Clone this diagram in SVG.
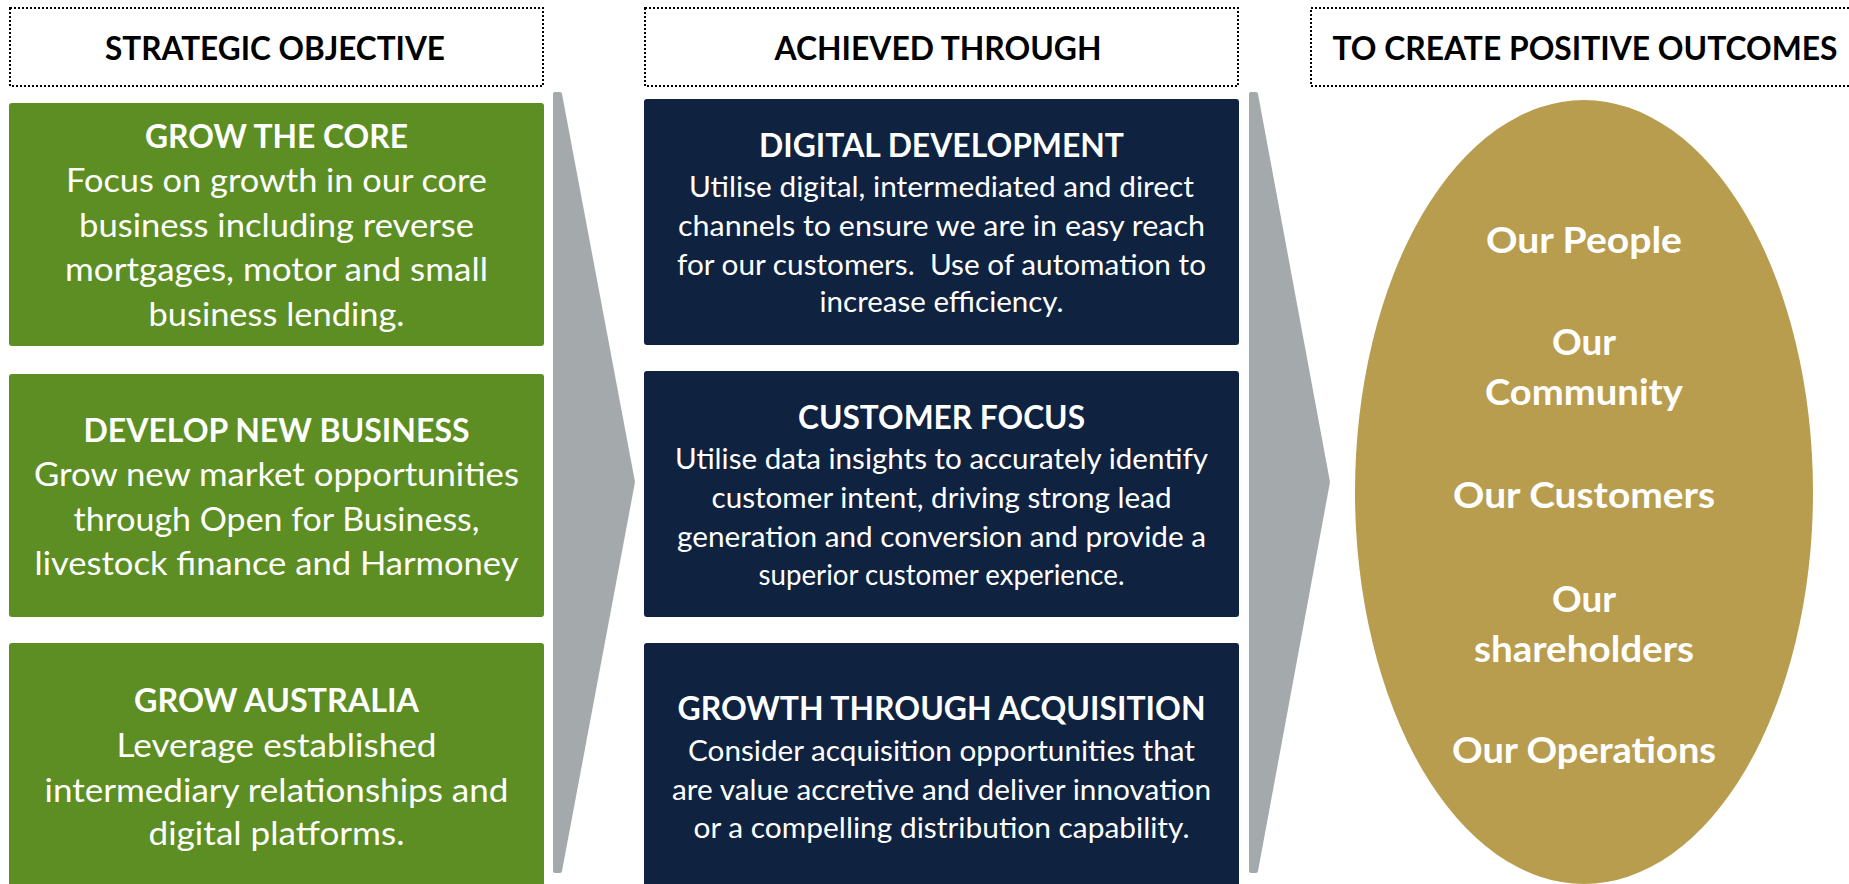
<svg xmlns="http://www.w3.org/2000/svg" width="1849" height="884" viewBox="0 0 1849 884">
<style>
.hdr{fill:none;stroke:#000;stroke-width:2;stroke-dasharray:2 2}
.ht{font-family:Lato,"Open Sans",sans-serif;font-weight:700;font-size:32px;fill:#000;text-anchor:middle}
.g{fill:#5D8E23}
.n{fill:#0F2240}
.t{font-family:Lato,"Open Sans",sans-serif;fill:#fff;text-anchor:middle}
.tb{font-weight:700;font-size:33px}
.gb{font-size:33px}
.nb{font-size:28px}
.e{font-family:Lato,"Open Sans",sans-serif;font-weight:700;font-size:37px;fill:#fff;text-anchor:middle}
.arr{fill:#A4A9AC;stroke:#A4A9AC;stroke-width:4;stroke-linejoin:round}
</style>

<g id="header-strategic">
<rect class="hdr" x="10" y="8" width="533" height="78"/>
<text class="ht" x="275" y="60" textLength="340" lengthAdjust="spacingAndGlyphs">STRATEGIC OBJECTIVE</text>
</g>
<g id="header-achieved">
<rect class="hdr" x="645" y="8" width="593" height="78"/>
<text class="ht" x="938" y="60" textLength="327" lengthAdjust="spacingAndGlyphs">ACHIEVED THROUGH</text>
</g>
<g id="header-outcomes">
<rect class="hdr" x="1311" y="8" width="560" height="78"/>
<text class="ht" x="1585" y="60" textLength="505" lengthAdjust="spacingAndGlyphs">TO CREATE POSITIVE OUTCOMES</text>
</g>

<g id="connectors">
<polygon class="arr" points="555,94 560,94 633,482 560,871 555,871"/>
<polygon class="arr" points="1251,94 1256,94 1328,482 1256,871 1251,871"/>
</g>

<g id="grow-core">
<rect class="g" x="9" y="103" width="535" height="243" rx="3"/>
<text class="t tb" x="276.5" y="148" textLength="263" lengthAdjust="spacingAndGlyphs">GROW THE CORE</text>
<text class="t gb" x="276.5" y="192" textLength="421" lengthAdjust="spacingAndGlyphs">Focus on growth in our core</text>
<text class="t gb" x="276.5" y="237" textLength="395" lengthAdjust="spacingAndGlyphs">business including reverse</text>
<text class="t gb" x="276.5" y="281" textLength="423" lengthAdjust="spacingAndGlyphs">mortgages, motor and small</text>
<text class="t gb" x="276.5" y="326" textLength="256" lengthAdjust="spacingAndGlyphs">business lending.</text>
</g>

<g id="develop-new-business">
<rect class="g" x="9" y="374" width="535" height="243" rx="3"/>
<text class="t tb" x="276.5" y="442" textLength="386" lengthAdjust="spacingAndGlyphs">DEVELOP NEW BUSINESS</text>
<text class="t gb" x="276.5" y="486" textLength="485" lengthAdjust="spacingAndGlyphs">Grow new market opportunities</text>
<text class="t gb" x="276.5" y="531" textLength="406" lengthAdjust="spacingAndGlyphs">through Open for Business,</text>
<text class="t gb" x="276.5" y="575" textLength="484" lengthAdjust="spacingAndGlyphs">livestock finance and Harmoney</text>
</g>

<g id="grow-australia">
<rect class="g" x="9" y="643" width="535" height="250" rx="3"/>
<text class="t tb" x="276.5" y="712" textLength="285" lengthAdjust="spacingAndGlyphs">GROW AUSTRALIA</text>
<text class="t gb" x="276.5" y="757" textLength="320" lengthAdjust="spacingAndGlyphs">Leverage established</text>
<text class="t gb" x="276.5" y="802" textLength="464" lengthAdjust="spacingAndGlyphs">intermediary relationships and</text>
<text class="t gb" x="276.5" y="845" textLength="256" lengthAdjust="spacingAndGlyphs">digital platforms.</text>
</g>

<g id="digital-development">
<rect class="n" x="644" y="99" width="595" height="246" rx="3"/>
<text class="t tb" x="941.5" y="157" textLength="365" lengthAdjust="spacingAndGlyphs">DIGITAL DEVELOPMENT</text>
<text class="t nb" x="941.5" y="197" textLength="505" lengthAdjust="spacingAndGlyphs">Utilise digital, intermediated and direct</text>
<text class="t nb" x="941.5" y="236" textLength="527" lengthAdjust="spacingAndGlyphs">channels to ensure we are in easy reach</text>
<text class="t nb" x="941.5" y="275" textLength="529" lengthAdjust="spacingAndGlyphs" xml:space="preserve">for our customers.  Use of automation to</text>
<text class="t nb" x="941.5" y="312" textLength="244" lengthAdjust="spacingAndGlyphs">increase efficiency.</text>
</g>

<g id="customer-focus">
<rect class="n" x="644" y="371" width="595" height="246" rx="3"/>
<text class="t tb" x="941.5" y="429" textLength="287" lengthAdjust="spacingAndGlyphs">CUSTOMER FOCUS</text>
<text class="t nb" x="941.5" y="469" textLength="533" lengthAdjust="spacingAndGlyphs">Utilise data insights to accurately identify</text>
<text class="t nb" x="941.5" y="508" textLength="460" lengthAdjust="spacingAndGlyphs">customer intent, driving strong lead</text>
<text class="t nb" x="941.5" y="547" textLength="529" lengthAdjust="spacingAndGlyphs">generation and conversion and provide a</text>
<text class="t nb" x="941.5" y="585" textLength="366" lengthAdjust="spacingAndGlyphs">superior customer experience.</text>
</g>

<g id="growth-acquisition">
<rect class="n" x="644" y="643" width="595" height="250" rx="3"/>
<text class="t tb" x="941.5" y="720" textLength="528" lengthAdjust="spacingAndGlyphs">GROWTH THROUGH ACQUISITION</text>
<text class="t nb" x="941.5" y="761" textLength="507" lengthAdjust="spacingAndGlyphs">Consider acquisition opportunities that</text>
<text class="t nb" x="941.5" y="800" textLength="539" lengthAdjust="spacingAndGlyphs">are value accretive and deliver innovation</text>
<text class="t nb" x="941.5" y="838" textLength="496" lengthAdjust="spacingAndGlyphs">or a compelling distribution capability.</text>
</g>

<g id="outcomes">
<ellipse cx="1584" cy="492" rx="229" ry="392" fill="#B89D4F"/>
<text class="e" x="1584" y="253" textLength="196" lengthAdjust="spacingAndGlyphs">Our People</text>
<text class="e" x="1584" y="355" textLength="64" lengthAdjust="spacingAndGlyphs">Our</text>
<text class="e" x="1584" y="405" textLength="198" lengthAdjust="spacingAndGlyphs">Community</text>
<text class="e" x="1584" y="508" textLength="262" lengthAdjust="spacingAndGlyphs">Our Customers</text>
<text class="e" x="1584" y="612" textLength="64" lengthAdjust="spacingAndGlyphs">Our</text>
<text class="e" x="1584" y="662" textLength="220" lengthAdjust="spacingAndGlyphs">shareholders</text>
<text class="e" x="1584" y="763" textLength="264" lengthAdjust="spacingAndGlyphs">Our Operations</text>
</g>
</svg>
